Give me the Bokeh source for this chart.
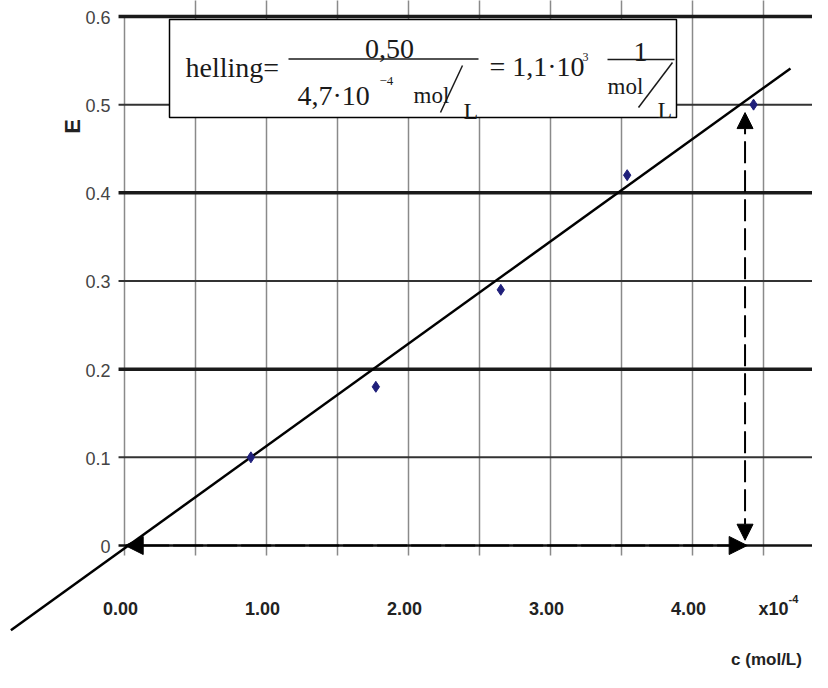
import math
from bokeh.plotting import figure
from bokeh.models import Range1d, BoxAnnotation, Label, Arrow, NormalHead, ColumnDataSource
from bokeh.core.properties import value
from bokeh.embed import file_html
from bokeh.resources import INLINE

# ---------------- data ----------------
conc = [0.89, 1.77, 2.65, 3.54, 4.43]          # c in 10^-4 mol/L
extinction = [0.10, 0.18, 0.29, 0.42, 0.50]     # E
fit_c = [-0.80, 4.69]                           # drawn trend line
fit_E = [-0.096, 0.541]
read_E = 0.50                                   # read-off level
read_c = 4.37                                   # read-off concentration
x_ticks = [0.0, 1.0, 2.0, 3.0, 4.0]
x_tick_labels = ["0.00", "1.00", "2.00", "3.00", "4.00"]
x_grid = [0.0, 0.5, 1.0, 1.5, 2.0, 2.5, 3.0, 3.5, 4.0, 4.5, 5.0]
y_ticks = [0.0, 0.1, 0.2, 0.3, 0.4, 0.5, 0.6]
y_tick_labels = ["0", "0.1", "0.2", "0.3", "0.4", "0.5", "0.6"]

# ---------------- layout helpers (reference pixel -> data) ----------------
PX0, PXU = 124.0, 142.0
PY0, PYU = 545.0, 881.7
def X(px):
    return (px - PX0) / PXU
def Y(py):
    return (PY0 - py) / PYU

W, H = 812, 672
p = figure(width=W, height=H, output_backend="svg", toolbar_location=None,
           x_range=Range1d(X(0), X(W)), y_range=Range1d(Y(H), Y(0)),
           x_axis_location=None, y_axis_location=None, min_border=0,
           tools="")
p.outline_line_color = None
p.grid.visible = False
p.background_fill_color = "white"

SANS = "Liberation Sans"
SERIF = "Liberation Serif"

# vertical grid lines (+ tick marks below the axis)
ytop = max(y_ticks)
vg = ColumnDataSource(dict(
    x=x_grid,
    y0=[-0.0113] * len(x_grid),
    y1=[ytop if xv == 0 else 0.7 for xv in x_grid],
))
p.segment(x0="x", y0="y0", x1="x", y1="y1", source=vg,
          line_color="#8a8a8a", line_width=1.5)

# horizontal grid lines
hw = []
hc = []
for i, yv in enumerate(y_ticks):
    if i == 0:
        hw.append(2.5); hc.append("#111111")
    elif i % 2 == 0:
        hw.append(3.5); hc.append("#1a1a1a")
    else:
        hw.append(2.0); hc.append("#333333")
hg = ColumnDataSource(dict(y=y_ticks, x0=[-0.042] * len(y_ticks),
                           x1=[5.3] * len(y_ticks), w=hw, c=hc))
p.segment(x0="x0", y0="y", x1="x1", y1="y", source=hg,
          line_color="c", line_width="w")

# trend line and measured points
p.line(fit_c, fit_E, line_color="black", line_width=2.5)
p.scatter(conc, extinction, marker="diamond", size=11,
          fill_color="#1f1f7a", line_color="#1f1f7a")

# tick labels
xs = ColumnDataSource(dict(x=x_ticks, y=[0.0] * len(x_ticks), t=x_tick_labels))
p.text(x="x", y="y", text="t", source=xs, x_offset=-4, y_offset=63,
       text_align="center", text_baseline="middle",
       text_font=value(SANS), text_font_size="18px",
       text_font_style="bold", text_color="#222222")
ys = ColumnDataSource(dict(x=[0.0] * len(y_ticks), y=y_ticks, t=y_tick_labels))
p.text(x="x", y="y", text="t", source=ys, x_offset=-14, y_offset=1,
       text_align="right", text_baseline="middle",
       text_font=value(SANS), text_font_size="18px",
       text_color="#444444")

# axis titles
p.add_layout(Label(x=X(72), y=Y(126), text="E", angle=math.pi / 2,
                   text_align="center", text_baseline="middle",
                   text_font=SANS, text_font_size="22px",
                   text_font_style="bold", text_color="#222222"))
p.add_layout(Label(x=X(758), y=Y(608), text="x10", text_align="left",
                   text_baseline="middle", text_font=SANS,
                   text_font_size="18px", text_font_style="bold",
                   text_color="#222222"))
p.add_layout(Label(x=X(788), y=Y(598), text="-4", text_align="left",
                   text_baseline="middle", text_font=SANS,
                   text_font_size="11px", text_font_style="bold",
                   text_color="#222222"))
p.add_layout(Label(x=X(766), y=Y(659), text="c (mol/L)", text_align="center",
                   text_baseline="middle", text_font=SANS,
                   text_font_size="17px", text_font_style="bold",
                   text_color="#222222"))

# dashed read-off arrows
p.add_layout(Arrow(x_start=read_c, y_start=0.006, x_end=read_c, y_end=read_E - 0.009,
                   start=NormalHead(size=16, fill_color="black", line_color="black"),
                   end=NormalHead(size=16, fill_color="black", line_color="black"),
                   line_color="black", line_width=2, line_dash="22 7"))
p.add_layout(Arrow(x_start=read_c + 0.015, y_start=0.0, x_end=0.005, y_end=0.0,
                   start=NormalHead(size=18, fill_color="black", line_color="black"),
                   end=NormalHead(size=18, fill_color="black", line_color="black"),
                   line_color="black", line_width=2, line_dash="30 4"))

# equation box
p.add_layout(BoxAnnotation(left=X(169), right=X(676), top=Y(19), bottom=Y(117),
                           fill_color="white", fill_alpha=1.0,
                           line_color="black", line_alpha=1.0, line_width=1.5))

def serif(txt, px, py, size, align="left"):
    p.add_layout(Label(x=X(px), y=Y(py), text=txt, text_align=align,
                       text_baseline="alphabetic", text_font=SERIF,
                       text_font_size=f"{size}px", text_color="#1a1a1a"))

def rule(x0, y0, x1, y1):
    p.add_layout(Arrow(x_start=X(x0), y_start=Y(y0), x_end=X(x1), y_end=Y(y1),
                       end=None, line_color="#1a1a1a", line_width=1.5))

serif("helling=", 185, 67, 28)
serif("0,50", 389, 48, 28, "center")
rule(288, 58.5, 478, 58.5)
serif("4,7\u00b710", 297, 95, 28)
serif("\u22124", 379, 80, 13)
serif("mol", 413, 95, 23)
rule(440, 112, 462, 65)
serif("L", 463, 110, 24)
serif("= 1,1\u00b710", 489, 66, 28)
serif("3", 582, 56, 12)
rule(607, 59, 674, 59)
serif("1", 640, 51, 28, "center")
serif("mol", 607, 86, 23)
rule(638, 107, 672, 62)
serif("L", 657, 109, 24)

open("out.html", "w").write(file_html(p, INLINE))
